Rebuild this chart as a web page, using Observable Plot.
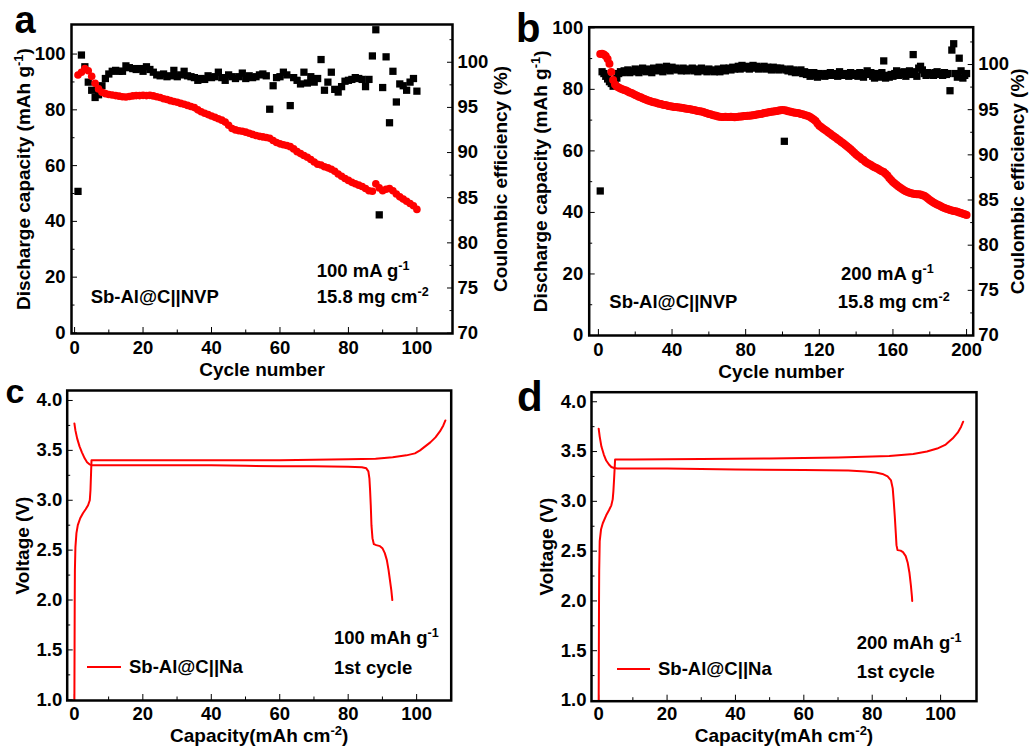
<!DOCTYPE html>
<html><head><meta charset="utf-8">
<script src="https://cdn.jsdelivr.net/npm/d3@7"></script>
<script src="https://cdn.jsdelivr.net/npm/@observablehq/plot@0.6"></script>
<style>
body{margin:0;background:#fff;}
#root{position:relative;width:1032px;height:746px;overflow:hidden;font-family:"Liberation Sans",Arial,sans-serif;font-weight:bold;color:#000;}
.panel{position:absolute;}
.lbl{position:absolute;white-space:nowrap;line-height:18px;font-size:18.5px;}
.letter{position:absolute;line-height:1;white-space:nowrap;}
sup{font-size:0.68em;vertical-align:baseline;position:relative;top:-0.55em;}
.leg{position:absolute;height:0;border-top:2px solid #f00;}
</style></head>
<body><div id="root"></div>
<script>
// ---------- DATA ----------
// Panel a: 100 mA g-1, cycles 1..100
const capA = [92.5,93.5,94.8,94.0,92.0,89.5,87.5,86.3,85.8,85.5,
 85.3,85.1,84.9,84.7,84.6,84.8,85.0,85.1,85.1,85.2,
 85.1,85.2,85.0,84.7,84.4,84.0,83.7,83.3,83.0,82.7,
 82.3,82.0,81.6,81.2,80.8,80.0,79.3,78.8,78.3,77.8,
 77.3,76.8,76.3,75.6,74.5,73.3,72.8,72.5,72.3,72.0,
 71.6,71.2,70.8,70.5,70.3,70.1,69.8,69.0,68.3,67.8,
 67.5,67.2,66.8,66.0,65.0,64.3,63.6,63.0,62.2,61.3,
 60.5,60.2,59.6,59.2,58.7,58.0,57.0,56.2,55.4,54.7,
 54.0,53.5,53.0,52.5,51.8,51.0,50.8,53.5,52.0,51.0,
 51.5,51.8,51.0,49.8,48.8,48.0,47.2,46.4,45.6,44.3];
const ceA = [85.7,100.8,99.5,97.8,96.9,96.1,96.4,97.4,98.2,98.7,
 99.0,99.1,99.0,99.0,99.6,99.4,99.3,99.2,99.3,99.0,
 99.5,99.2,98.9,98.6,98.5,98.7,98.4,98.5,99.1,98.4,
 98.6,99.0,98.5,98.4,98.3,98.0,98.2,98.1,98.5,98.3,
 98.4,98.9,98.3,98.0,98.6,98.4,98.2,98.4,98.8,98.2,
 98.5,98.3,98.4,98.6,98.7,98.5,94.8,97.4,98.3,98.4,
 98.9,98.6,95.2,98.3,98.0,97.6,98.9,97.7,98.4,97.8,
 98.2,100.3,96.9,97.8,98.9,97.0,96.7,97.3,97.9,98.0,
 98.1,98.3,98.2,98.1,97.3,98.1,100.7,103.6,83.1,97.2,
 100.6,93.3,99.0,95.6,97.6,97.4,96.9,97.8,98.2,96.8];

// Panel b: 200 mA g-1, cycles 1..200
const capB = [91.5,91.6,91.3,90.8,89.9,88.3,85.6,83.0,81.6,80.9,
 80.6,80.3,80.0,79.8,79.6,79.3,79.0,78.8,78.5,78.2,
 77.9,77.6,77.4,77.1,76.9,76.6,76.4,76.2,76.0,75.8,
 75.7,75.5,75.3,75.2,75.0,74.9,74.8,74.6,74.5,74.4,
 74.3,74.3,74.2,74.1,74.0,73.9,73.8,73.7,73.6,73.5,
 73.4,73.3,73.1,73.0,72.9,72.8,72.6,72.4,72.2,72.0,
 71.9,71.7,71.5,71.4,71.2,71.1,71.0,71.0,71.1,71.0,
 71.0,71.1,71.0,70.9,71.0,71.1,71.2,71.2,71.3,71.3,
 71.4,71.4,71.5,71.6,71.7,71.8,71.9,72.0,72.1,72.3,
 72.4,72.5,72.6,72.7,72.8,72.9,73.0,73.1,73.2,73.3,
 73.2,73.1,72.9,72.8,72.6,72.5,72.4,72.3,72.2,72.0,
 71.9,71.7,71.5,71.3,71.0,70.6,70.2,69.7,68.9,68.2,
 67.8,67.3,66.9,66.5,66.0,65.6,65.1,64.7,64.3,63.8,
 63.4,62.9,62.5,62.0,61.5,61.0,60.5,60.0,59.4,58.8,
 58.3,57.9,57.4,57.0,56.5,56.1,55.7,55.4,55.0,54.7,
 54.4,54.1,53.7,53.4,53.1,52.6,52.0,51.2,50.5,49.9,
 49.4,48.9,48.4,48.0,47.6,47.2,46.9,46.6,46.4,46.2,
 46.1,46.0,45.9,45.9,45.8,45.6,45.4,45.0,44.5,44.0,
 43.6,43.2,42.9,42.6,42.3,42.0,41.7,41.4,41.2,41.0,
 40.8,40.6,40.5,40.4,40.2,40.0,39.8,39.6,39.4,39.2];
const ceB = [86.0,99.2,99.0,98.7,98.4,98.1,97.9,97.6,97.8,98.5,
 99.0,99.2,99.1,99.3,99.2,99.4,99.1,99.3,99.2,99.5,
 99.3,99.1,99.4,99.6,99.3,99.2,99.5,99.4,99.1,99.6,
 99.4,99.3,99.7,99.5,99.2,99.6,99.8,99.4,99.3,99.7,
 99.5,99.6,99.4,99.5,99.3,99.6,99.4,99.3,99.5,99.4,
 99.6,99.3,99.5,99.2,99.4,99.6,99.3,99.4,99.2,99.5,
 99.3,99.4,99.2,99.3,99.5,99.2,99.4,99.6,99.3,99.5,
 99.6,99.4,99.7,99.5,99.6,99.8,99.5,99.9,99.7,99.6,
 99.8,99.5,99.7,99.9,99.6,99.8,99.5,99.7,99.6,99.8,
 99.5,99.7,99.6,99.4,99.7,99.5,99.6,99.4,99.6,99.5,
 91.5,99.4,99.3,99.5,99.2,99.4,99.1,99.3,99.2,99.4,
 99.0,99.2,98.9,99.1,98.7,98.9,99.1,98.8,98.6,99.0,
 98.8,98.9,98.7,99.0,98.8,99.1,98.9,98.8,99.0,98.7,
 99.2,98.9,98.8,99.0,98.9,98.7,99.1,98.8,98.9,99.0,
 98.7,99.1,98.8,98.6,99.0,99.3,98.9,99.1,98.7,98.5,
 99.0,98.8,98.6,99.1,100.4,98.5,98.8,98.6,98.9,98.7,
 99.0,99.3,98.8,99.1,98.9,99.2,98.7,99.0,99.3,98.9,
 101.1,99.2,98.7,99.6,99.8,99.4,99.0,98.8,99.1,98.9,
 99.0,98.8,99.1,99.2,98.9,99.0,98.8,99.1,98.9,99.0,
 97.1,101.6,102.3,99.0,98.6,100.7,99.3,98.5,98.8,99.0];

// Panel c: 100 mAh g-1, 1st cycle  [capacity, voltage]
const dischargeC = [[0,3.77],[0.3,3.70],[0.8,3.62],[1.5,3.54],[2.2,3.48],[3.0,3.42],[3.7,3.38],[4.4,3.36],[5.2,3.35],
 [10,3.35],[20,3.35],[30,3.35],[40,3.35],[50,3.345],[60,3.34],[70,3.34],[80,3.335],[84,3.33],[85.3,3.32],
 [85.9,3.29],[86.2,3.22],[86.4,3.10],[86.6,2.95],[86.8,2.75],[87.1,2.62],[87.5,2.56],[88.2,2.55],[89.3,2.54],
 [90.0,2.52],[90.7,2.47],[91.3,2.40],[91.8,2.30],[92.2,2.20],[92.6,2.10],[92.9,2.0]];
const chargeC = [[0,1.0],[0.05,1.5],[0.1,2.0],[0.15,2.3],[0.3,2.53],[0.6,2.67],[1.0,2.75],[1.7,2.82],[2.5,2.87],
 [3.3,2.91],[4.0,2.95],[4.5,3.0],[4.7,3.1],[4.85,3.25],[5.0,3.40],[10,3.40],[20,3.40],[40,3.40],[60,3.40],
 [80,3.41],[88,3.415],[93,3.43],[97,3.45],[99.5,3.47],[101,3.50],[102.5,3.54],[104,3.58],[105.5,3.63],
 [106.8,3.69],[107.8,3.75],[108.4,3.80]];

// Panel d: 200 mAh g-1, 1st cycle  [capacity, voltage]
const dischargeD = [[0,3.73],[0.3,3.65],[0.8,3.55],[1.5,3.47],[2.2,3.41],[3.0,3.37],[3.7,3.345],[4.5,3.335],[5.5,3.33],
 [20,3.33],[40,3.32],[60,3.315],[73,3.31],[78,3.30],[81,3.29],[83,3.275],[84.5,3.25],[85.5,3.21],[86.0,3.13],
 [86.3,3.0],[86.6,2.85],[86.9,2.68],[87.1,2.56],[87.4,2.51],[88.3,2.505],[89.0,2.49],[89.8,2.45],[90.4,2.38],
 [90.9,2.28],[91.3,2.16],[91.6,2.05],[91.7,2.0]];
const chargeD = [[0,1.0],[0.05,1.5],[0.1,2.0],[0.15,2.3],[0.3,2.6],[0.7,2.72],[1.2,2.78],[2.2,2.86],[3.0,2.91],
 [3.7,2.96],[4.1,3.02],[4.3,3.1],[4.5,3.22],[4.7,3.35],[4.8,3.42],[10,3.42],[30,3.425],[50,3.43],[70,3.44],
 [85,3.455],[92,3.475],[96,3.50],[99,3.53],[101.5,3.57],[103.5,3.63],[105,3.69],[106,3.75],[106.6,3.80]];

// Tick values
const capTicksMajor = [0,20,40,60,80,100];
const capTicksMinor = [10,30,50,70,90];
const ceTicksMajor = [70,75,80,85,90,95,100];
const ceTicksMinor = [72.5,77.5,82.5,87.5,92.5,97.5,102.5];
const cycleTicksA = [0,20,40,60,80,100];
const cycleTicksAMinor = [10,30,50,70,90];
const cycleTicksB = [0,40,80,120,160,200];
const cycleTicksBMinor = [20,60,100,140,180];
const voltTicks = [1.0,1.5,2.0,2.5,3.0,3.5,4.0];
const voltTicksMinor = [1.25,1.75,2.25,2.75,3.25,3.75];
const capacityTicks = [0,20,40,60,80,100];
const capacityTicksMinor = [10,30,50,70,90];

// ---------- RENDER ----------
const FONT = '"Liberation Sans", Arial, sans-serif';
const root = document.getElementById("root");
const style = {fontFamily: FONT, fontSize: "18.5px", fontWeight: "bold", background: "transparent", overflow: "visible", color: "#000"};

function axesX(o) {
  return [
    Plot.axisX({ticks: o.major, tickSize: -6, tickPadding: o.pad + 6, tickFormat: o.fmt || (d => d),
      label: o.label, labelAnchor: "center", labelArrow: "none", labelOffset: o.labelOffset}),
    Plot.axisX({ticks: o.minor, tickSize: -3.5, tickFormat: () => "", label: null})
  ];
}
function axesY(o) {
  const map = o.map || (d => d);
  const inv = o.inv || (d => d);
  return [
    Plot.axisY({anchor: o.anchor, ticks: o.major.map(map), tickSize: -6, tickPadding: o.pad + 6,
      tickFormat: o.fmt ? (d => o.fmt(inv(d))) : (d => Math.round(inv(d))),
      label: o.label, labelAnchor: "center", labelArrow: "none", labelOffset: o.labelOffset}),
    Plot.axisY({anchor: o.anchor, ticks: o.minor.map(map), tickSize: -3.5, tickFormat: () => "", label: null})
  ];
}

function supify(svg) {
  d3.select(svg).selectAll('g[aria-label$="axis label"] text').attr("font-size", 19);
  d3.select(svg).selectAll("text").each(function() {
    let t = this.textContent;
    const clean = t.replace(/[\u2191\u2193\u2190\u2192]/g, "").trim();
    if (clean !== t) { this.textContent = clean; t = clean; }
    if (!t.includes("^{")) return;
    const parts = t.split(/(\^\{[^}]*\})/).filter(p => p);
    this.textContent = "";
    let raised = false;
    for (const p of parts) {
      const m = p.match(/^\^\{([^}]*)\}$/);
      const ts = d3.select(this).append("tspan");
      if (m) { ts.attr("dy", -7).attr("font-size", 13).text(m[1]); raised = true; }
      else { if (raised) { ts.attr("dy", 7); raised = false; } ts.text(p); }
    }
  });
}

function place(svg, left, top) {
  const d = document.createElement("div");
  d.className = "panel";
  d.style.left = left + "px"; d.style.top = top + "px";
  d.appendChild(svg);
  root.appendChild(d);
  supify(svg);
}
function html(content, left, top, cls, size) {
  const d = document.createElement("div");
  d.className = cls || "lbl";
  d.style.left = left + "px"; d.style.top = top + "px";
  if (size) d.style.fontSize = size + "px";
  d.innerHTML = content;
  root.appendChild(d);
}
function legend(left, top, width) {
  const d = document.createElement("div");
  d.className = "leg";
  d.style.left = left + "px"; d.style.top = top + "px"; d.style.width = width + "px";
  root.appendChild(d);
}

// Panel a
const rowsA = capA.map((v, i) => ({cycle: i + 1, cap: v, ce: ceA[i]}));
const ceMapA = d3.scaleLinear([70, 100], [-0.07, 97.06]);
const plotA = Plot.plot({
  width: 516, height: 390, marginTop: 24, marginLeft: 71, marginRight: 64, marginBottom: 57,
  x: {domain: [-0.9, 110.4]}, y: {domain: [-0.2, 110.6]}, style,
  marks: [
    ...axesX({major: cycleTicksA, minor: cycleTicksAMinor, pad: 7, label: "Cycle number", labelOffset: 42.5}),
    ...axesY({anchor: "left", major: capTicksMajor, minor: capTicksMinor, pad: 6, label: "Discharge capacity (mAh g^{-1})", labelOffset: 55}),
    ...axesY({anchor: "right", major: ceTicksMajor, minor: ceTicksMinor, pad: 5, map: ceMapA, inv: ceMapA.invert, label: "Coulombic efficiency (%)", labelOffset: 54}),
    Plot.dot(rowsA, {x: "cycle", y: d => ceMapA(d.ce), symbol: "square", r: 4.1, fill: "#000"}),
    Plot.dot(rowsA, {x: "cycle", y: "cap", r: 3.8, fill: "#ff0000"}),
    Plot.frame({stroke: "#000", strokeWidth: 2.5})
  ]
});
place(plotA, 0, 0);

// Panel b
const rowsB = capB.map((v, i) => ({cycle: i + 1, cap: v, ce: ceB[i]}));
const ceMapB = d3.scaleLinear([70, 100], [0, 88.07]);
const plotB = Plot.plot({
  width: 516, height: 390, marginTop: 26.7, marginLeft: 72.7, marginRight: 59.3, marginBottom: 55,
  x: {domain: [-5, 203.6]}, y: {domain: [0, 100.2]}, style,
  marks: [
    ...axesX({major: cycleTicksB, minor: cycleTicksBMinor, pad: 7, label: "Cycle number", labelOffset: 42.5}),
    ...axesY({anchor: "left", major: capTicksMajor, minor: capTicksMinor, pad: 6, label: "Discharge capacity (mAh g^{-1})", labelOffset: 56}),
    ...axesY({anchor: "right", major: ceTicksMajor, minor: ceTicksMinor, pad: 5, map: ceMapB, inv: ceMapB.invert, label: "Coulombic efficiency (%)", labelOffset: 51}),
    Plot.dot(rowsB, {x: "cycle", y: d => ceMapB(d.ce), symbol: "square", r: 4.1, fill: "#000"}),
    Plot.dot(rowsB, {x: "cycle", y: "cap", r: 4, fill: "#ff0000"}),
    Plot.frame({stroke: "#000", strokeWidth: 2.5})
  ]
});
place(plotB, 516, 0);

// Panel c
const fmtV = d3.format(".1f");
const plotC = Plot.plot({
  width: 516, height: 366, marginTop: 10, marginLeft: 66.7, marginRight: 65.3, marginBottom: 46,
  x: {domain: [-2.1, 110.1]}, y: {domain: [0.993, 4.1]}, style,
  marks: [
    ...axesX({major: capacityTicks, minor: capacityTicksMinor, pad: 6, label: "Capacity(mAh cm^{-2})", labelOffset: 41.5}),
    ...axesY({anchor: "left", major: voltTicks, minor: voltTicksMinor, pad: 5, fmt: fmtV, label: "Voltage (V)", labelOffset: 52}),
    Plot.line(chargeC, {x: d => d[0], y: d => d[1], stroke: "#ff0000", strokeWidth: 2}),
    Plot.line(dischargeC, {x: d => d[0], y: d => d[1], stroke: "#ff0000", strokeWidth: 2}),
    Plot.frame({stroke: "#000", strokeWidth: 2.5})
  ]
});
place(plotC, 0, 380);

// Panel d
const plotD = Plot.plot({
  width: 516, height: 366, marginTop: 11.7, marginLeft: 75, marginRight: 56, marginBottom: 45.3,
  x: {domain: [-2.1, 110.5]}, y: {domain: [0.993, 4.096]}, style,
  marks: [
    ...axesX({major: capacityTicks, minor: capacityTicksMinor, pad: 6, label: "Capacity(mAh cm^{-2})", labelOffset: 41}),
    ...axesY({anchor: "left", major: voltTicks, minor: voltTicksMinor, pad: 5, fmt: fmtV, label: "Voltage (V)", labelOffset: 52}),
    Plot.line(chargeD, {x: d => d[0], y: d => d[1], stroke: "#ff0000", strokeWidth: 2}),
    Plot.line(dischargeD, {x: d => d[0], y: d => d[1], stroke: "#ff0000", strokeWidth: 2}),
    Plot.frame({stroke: "#000", strokeWidth: 2.5})
  ]
});
place(plotD, 516, 380);

// Panel letters
html("a", 14.5, 1, "letter", 38);
html("b", 516, 8, "letter", 40);
html("c", 5.5, 374, "letter", 34);
html("d", 517, 376, "letter", 42);

// Annotations
html("Sb-Al@C||NVP", 90.7, 288);
html("100 mA g<sup>-1</sup>", 316.7, 262);
html("15.8 mg cm<sup>-2</sup>", 316.7, 288);
html("Sb-Al@C||NVP", 609.3, 292.7);
html("200 mA g<sup>-1</sup>", 841, 265);
html("15.8 mg cm<sup>-2</sup>", 837.7, 292.7);

legend(87, 666, 34);
html("Sb-Al@C||Na", 129, 658);
html("100 mAh g<sup>-1</sup>", 334, 629);
html("1st cycle", 334, 659);

legend(617, 668, 33);
html("Sb-Al@C||Na", 658, 660);
html("200 mAh g<sup>-1</sup>", 856.7, 634);
html("1st cycle", 856.7, 663);
</script>
</body></html>
